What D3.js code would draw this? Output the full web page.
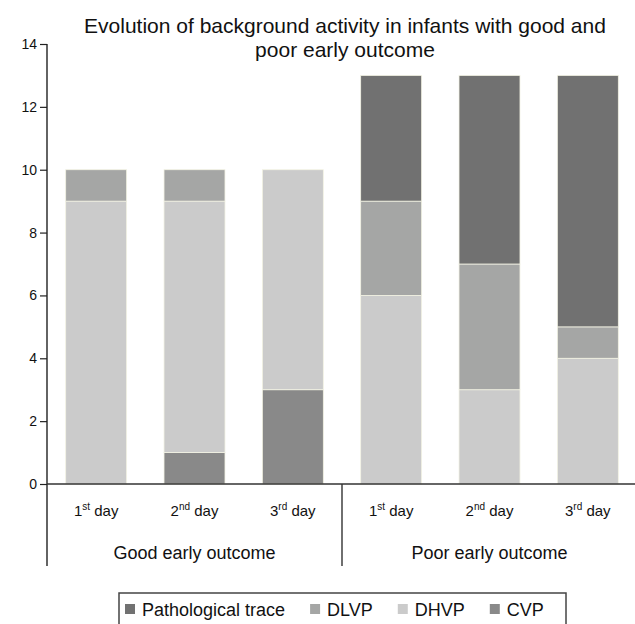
<!DOCTYPE html>
<html>
<head>
<meta charset="utf-8">
<script src="https://cdn.jsdelivr.net/npm/d3@7"></script>
<style>
  body { margin: 0; background: #fff; }
  svg { display: block; font-family: "Liberation Sans", Arial, sans-serif; }
</style>
</head>
<body>
<div id="chart"></div>
<script>
// data
const groups = ["Good early outcome", "Poor early outcome"];
const days = [["1", "st"], ["2", "nd"], ["3", "rd"]];
const seriesNames = ["CVP", "DHVP", "DLVP", "Pathological trace"];
const cvp = [0, 1, 3, 0, 0, 0];
const dhvp = [9, 8, 7, 6, 3, 4];
const dlvp = [1, 1, 0, 3, 4, 1];
const pathological = [0, 0, 0, 4, 6, 8];
const yTicks = [0, 2, 4, 6, 8, 10, 12, 14];
const legendOrder = ["Pathological trace", "DLVP", "DHVP", "CVP"];

const colors = {
  "CVP": "#898989",
  "DHVP": "#cbcbcb",
  "DLVP": "#a5a6a5",
  "Pathological trace": "#717171"
};

let width = 635,
  height = 624;

const rows = [];
groups.forEach((g, gi) => {
  days.forEach((d, di) => {
    const i = gi * days.length + di;
    rows.push({
      key: g + "|" + d.join(""),
      group: g, num: d[0], sup: d[1],
      "CVP": cvp[i], "DHVP": dhvp[i], "DLVP": dlvp[i], "Pathological trace": pathological[i]
    });
  });
});

const svg = d3.select("#chart").append("svg")
  .attr("width", width)
  .attr("height", height);

let x = d3.scaleBand()
  .domain(rows.map(d => d.key))
  .range([47, 637])
  .paddingInner(0.38)
  .paddingOuter(0.19);

let y = d3.scaleLinear()
  .domain([0, 14])
  .range([484, 44]);

let stack = d3.stack().keys(seriesNames);
let stacked = stack(rows);

// bars
svg.append("g").selectAll("g")
  .data(stacked)
  .enter().append("g")
  .attr("fill", d => colors[d.key])
  .selectAll("rect")
  .data(d => d.filter(s => s[1] - s[0] > 0))
  .enter().append("rect")
  .attr("x", d => x(d.data.key))
  .attr("width", x.bandwidth())
  .attr("y", d => y(d[1]))
  .attr("height", d => y(d[0]) - y(d[1]))
  .attr("stroke", "#f3f3e4")
  .attr("stroke-width", 0.8);

// y axis
const yAxis = svg.append("g")
  .attr("transform", "translate(47,0)")
  .call(d3.axisLeft(y).tickValues(yTicks).tickSize(7).tickPadding(3))
  .call(g => g.select(".domain").remove());
yAxis.selectAll("line").attr("stroke", "#222").attr("stroke-width", 1.2);
yAxis.selectAll("text").attr("font-size", 14).attr("fill", "#111")
  .style("font-family", '"Liberation Sans", Arial, sans-serif');

// axis lines
svg.append("line")
  .attr("x1", 47).attr("x2", 47)
  .attr("y1", y(14)).attr("y2", 566)
  .attr("stroke", "#222").attr("stroke-width", 1.4);
svg.append("line")
  .attr("x1", 47).attr("x2", 637)
  .attr("y1", y(0)).attr("y2", y(0))
  .attr("stroke", "#333").attr("stroke-width", 1.6);

// group divider
const divX = x(rows[3].key) - x.step() * x.paddingInner() / 2;
svg.append("line")
  .attr("x1", divX).attr("x2", divX)
  .attr("y1", y(0)).attr("y2", 566)
  .attr("stroke", "#333").attr("stroke-width", 1.4);

// day labels
const dayLab = svg.append("g").selectAll("text")
  .data(rows)
  .enter().append("text")
  .attr("x", d => x(d.key) + x.bandwidth() / 2)
  .attr("y", 516)
  .attr("text-anchor", "middle")
  .attr("font-size", 15)
  .attr("fill", "#111");
dayLab.append("tspan").text(d => d.num);
dayLab.append("tspan").attr("font-size", 10).attr("dy", -6).text(d => d.sup);
dayLab.append("tspan").attr("dy", 6).text(" day");

// group labels
svg.append("g").selectAll("text")
  .data(groups)
  .enter().append("text")
  .attr("x", (g, gi) => {
    const a = x(rows[gi * 3].key), b = x(rows[gi * 3 + 2].key) + x.bandwidth();
    return (a + b) / 2;
  })
  .attr("y", 559)
  .attr("text-anchor", "middle")
  .attr("font-size", 18)
  .attr("fill", "#111")
  .text(d => d);

// title
const title = svg.append("text")
  .attr("x", 345)
  .attr("y", 33)
  .attr("text-anchor", "middle")
  .attr("font-size", 21)
  .attr("fill", "#111");
title.append("tspan").attr("x", 345).text("Evolution of background activity in infants with good and");
title.append("tspan").attr("x", 345).attr("dy", 24).text("poor early outcome");

// legend
const legend = svg.append("g");
legend.append("rect")
  .attr("x", 119).attr("y", 593)
  .attr("width", 447).attr("height", 60)
  .attr("fill", "none")
  .attr("stroke", "#444").attr("stroke-width", 1.5);

let lx = 125;
legendOrder.forEach(name => {
  legend.append("rect")
    .attr("x", lx).attr("y", 604)
    .attr("width", 10).attr("height", 10)
    .attr("fill", colors[name]);
  const t = legend.append("text")
    .attr("x", lx + 17).attr("y", 616)
    .attr("font-size", 18)
    .attr("fill", "#111")
    .text(name);
  lx += 17 + t.node().getComputedTextLength() + 25;
});
</script>
</body>
</html>
